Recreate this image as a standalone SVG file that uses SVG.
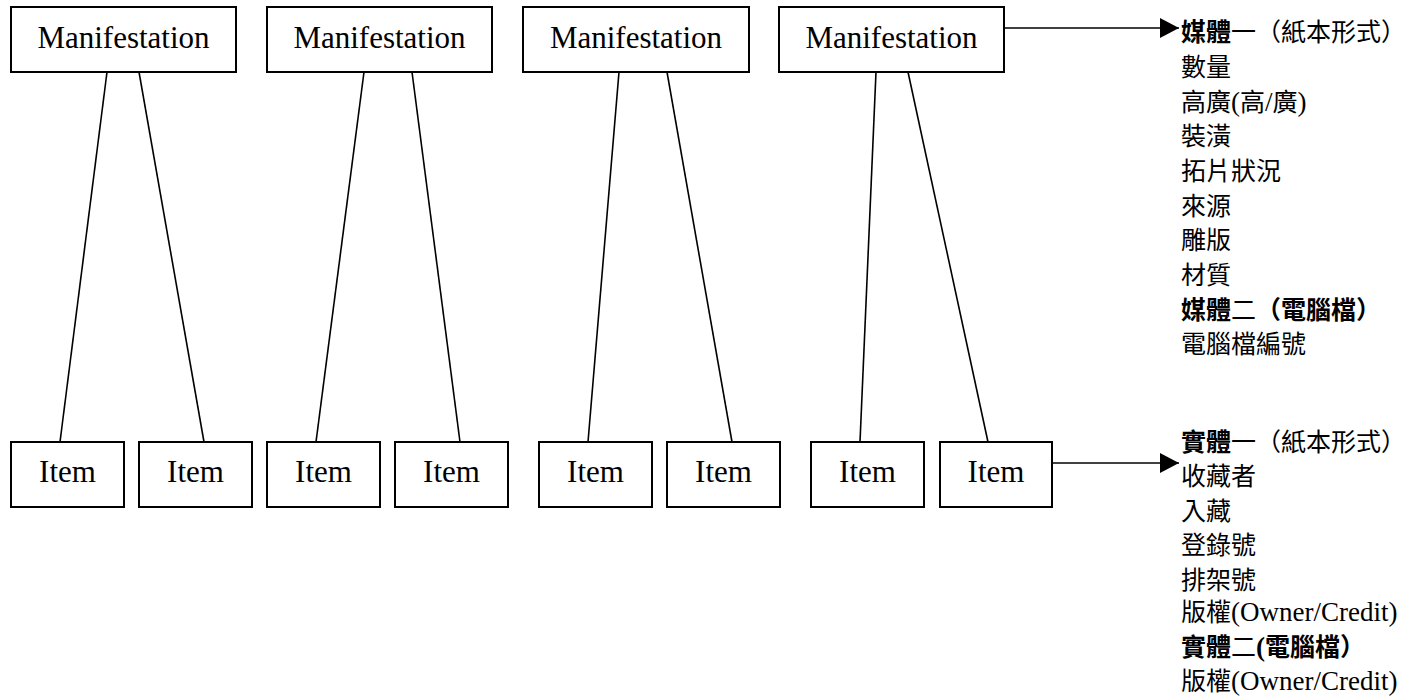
<svg xmlns="http://www.w3.org/2000/svg" width="1412" height="699" viewBox="0 0 1412 699">
<style>
.box{fill:#fff;stroke:#000;stroke-width:2}
.lbl{font-family:"Liberation Serif","Times New Roman",serif;font-size:31px;fill:#000;text-anchor:middle}
.conn{stroke:#000;stroke-width:1.6;fill:none}
.info{font-family:"Liberation Serif","Noto Sans CJK TC",serif;font-size:25px;fill:#000}
.lat{font-size:27px}
.b{font-weight:bold}
</style>
<defs>
<marker id="arr" markerUnits="userSpaceOnUse" markerWidth="20" markerHeight="20" refX="19" refY="10" orient="auto">
<path d="M0,0 L19,10 L0,20 Z" fill="#000"/>
</marker>
</defs>
<rect width="1412" height="699" fill="#fff"/>
<g id="connectors">
<line class="conn" x1="107" y1="72" x2="60" y2="442"/>
<line class="conn" x1="139" y1="72" x2="204" y2="442"/>
<line class="conn" x1="364" y1="72" x2="316" y2="442"/>
<line class="conn" x1="412" y1="72" x2="460" y2="442"/>
<line class="conn" x1="619" y1="72" x2="588" y2="442"/>
<line class="conn" x1="667" y1="72" x2="732" y2="442"/>
<line class="conn" x1="876" y1="72" x2="860" y2="442"/>
<line class="conn" x1="908" y1="72" x2="988" y2="442"/>
<line class="conn" x1="1005" y1="28" x2="1179" y2="28" marker-end="url(#arr)"/>
<line class="conn" x1="1053" y1="463" x2="1179" y2="463" marker-end="url(#arr)"/>
</g>
<g id="m1"><rect class="box" x="11" y="7" width="225" height="65"/><text class="lbl" x="123.5" y="48">Manifestation</text></g>
<g id="m2"><rect class="box" x="267" y="7" width="225" height="65"/><text class="lbl" x="379.5" y="48">Manifestation</text></g>
<g id="m3"><rect class="box" x="523" y="7" width="226" height="65"/><text class="lbl" x="636" y="48">Manifestation</text></g>
<g id="m4"><rect class="box" x="779" y="7" width="225" height="65"/><text class="lbl" x="891.5" y="48">Manifestation</text></g>
<g id="i1"><rect class="box" x="11" y="442" width="113" height="65"/><text class="lbl" x="67.5" y="482">Item</text></g>
<g id="i2"><rect class="box" x="139" y="442" width="113" height="65"/><text class="lbl" x="195.5" y="482">Item</text></g>
<g id="i3"><rect class="box" x="267" y="442" width="113" height="65"/><text class="lbl" x="323.5" y="482">Item</text></g>
<g id="i4"><rect class="box" x="395" y="442" width="113" height="65"/><text class="lbl" x="451.5" y="482">Item</text></g>
<g id="i5"><rect class="box" x="539" y="442" width="113" height="65"/><text class="lbl" x="595.5" y="482">Item</text></g>
<g id="i6"><rect class="box" x="667" y="442" width="113" height="65"/><text class="lbl" x="723.5" y="482">Item</text></g>
<g id="i7"><rect class="box" x="811" y="442" width="113" height="65"/><text class="lbl" x="867.5" y="482">Item</text></g>
<g id="i8"><rect class="box" x="940" y="442" width="112" height="65"/><text class="lbl" x="996" y="482">Item</text></g>
<g id="manifestation-attrs">
<text class="info" x="1181" y="41"><tspan class="b">媒體</tspan>一（紙本形式）</text>
<text class="info" x="1181" y="76">數量</text>
<text class="info" x="1181" y="110.5">高廣<tspan class="lat">(</tspan>高<tspan class="lat">/</tspan>廣<tspan class="lat">)</tspan></text>
<text class="info" x="1181" y="145">裝潢</text>
<text class="info" x="1181" y="180">拓片狀況</text>
<text class="info" x="1181" y="214.5">來源</text>
<text class="info" x="1181" y="249">雕版</text>
<text class="info" x="1181" y="284">材質</text>
<text class="info" x="1181" y="319"><tspan class="b">媒體</tspan>二<tspan class="b">（電腦檔）</tspan></text>
<text class="info" x="1181" y="353">電腦檔編號</text>
</g>
<g id="item-attrs">
<text class="info" x="1181" y="450.5"><tspan class="b">實體</tspan>一（紙本形式）</text>
<text class="info" x="1181" y="485">收藏者</text>
<text class="info" x="1181" y="519.5">入藏</text>
<text class="info" x="1181" y="554">登錄號</text>
<text class="info" x="1181" y="588.5">排架號</text>
<text class="info" x="1181" y="621">版權<tspan class="lat">(Owner/Credit)</tspan></text>
<text class="info" x="1181" y="656"><tspan class="b">實體</tspan>二<tspan class="b lat">(</tspan><tspan class="b">電腦檔）</tspan></text>
<text class="info" x="1181" y="690">版權<tspan class="lat">(Owner/Credit)</tspan></text>
</g>
</svg>
